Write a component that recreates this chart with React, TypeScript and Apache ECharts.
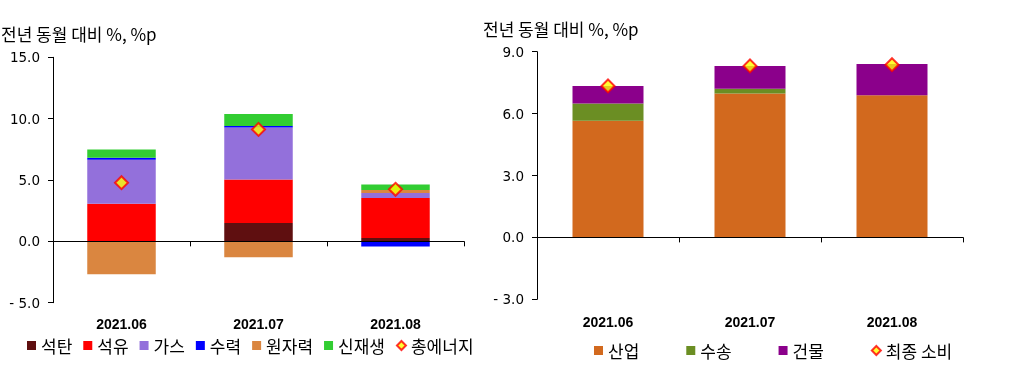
import React, { useEffect, useRef } from "react";
import * as echarts from "echarts";

const categories = ["2021.06", "2021.07", "2021.08"];

// 좌측: 에너지원별 기여도
const coal = [0.0, 1.49, 0.27];
const oil = [3.07, 3.56, 3.26];
const gas = [3.59, 4.22, 0.41];
const hydro = [0.15, 0.13, -0.41];
const nuclear = [-2.69, -1.3, 0.24];
const renew = [0.68, 0.98, 0.46];
const totalEnergy = [4.78, 9.12, 4.24];

// 우측: 부문별 기여도
const industry = [5.65, 6.97, 6.89];
const transport = [0.84, 0.23, -0.02];
const building = [0.85, 1.11, 1.51];
const finalConsumption = [7.34, 8.31, 8.37];

const leftTicks = { min: -5, max: 15, interval: 5 };
const rightTicks = { min: -3, max: 9, interval: 3 };

const KR = "'Noto Sans CJK KR', 'Noto Sans', sans-serif";
const NUM = "'DejaVu Sans', sans-serif";

const fmt = (v: number) => (v < 0 ? "- " + Math.abs(v).toFixed(1) : v.toFixed(1));

export default function App() {
  const ref = useRef<HTMLDivElement>(null);
  useEffect(() => {
    if (!ref.current) return;
    const chart = echarts.init(ref.current, null, { renderer: "svg" });

    const yAxisCommon = (t: { min: number; max: number; interval: number }, gi: number) => ({
      type: "value",
      gridIndex: gi,
      min: t.min,
      max: t.max,
      interval: t.interval,
      splitLine: { show: false },
      axisLine: { show: true, lineStyle: { color: "#000", width: 1 } },
      axisTick: { show: true, length: 5, lineStyle: { color: "#000" } },
      axisLabel: { color: "#000", fontSize: 13.5, fontFamily: NUM, margin: 13, formatter: fmt },
    });

    const xZero = (gi: number) => ({
      type: "category",
      gridIndex: gi,
      data: categories,
      z: 5,
      axisLine: { show: true, onZero: true, lineStyle: { color: "#000", width: 1 } },
      axisTick: { show: true, length: 5, alignWithLabel: false, lineStyle: { color: "#000" } },
      axisLabel: { show: false },
    });
    const xLabels = (gi: number, margin: number) => ({
      type: "category",
      gridIndex: gi,
      data: categories,
      position: "bottom",
      axisLine: { show: false, onZero: false },
      axisTick: { show: false },
      axisLabel: { color: "#000", fontSize: 14, fontWeight: "bold", fontFamily: "'Liberation Sans', sans-serif", margin },
    });

    const bar = (name: string, data: number[], color: string, xi: number, yi: number, stack: string) => ({
      name,
      type: "bar",
      stack,
      xAxisIndex: xi,
      yAxisIndex: yi,
      barWidth: "50%",
      data,
      itemStyle: { color },
    });
    const diamond = (name: string, data: number[], xi: number, yi: number) => ({
      name,
      type: "scatter",
      xAxisIndex: xi,
      yAxisIndex: yi,
      symbol: "diamond",
      symbolSize: 13,
      z: 10,
      data,
      itemStyle: { color: "#ffff00", borderColor: "#ff0000", borderWidth: 2 },
    });

    chart.setOption({
      animation: false,
      title: [
        { text: "전년 동월 대비 %, %p", left: 1, top: 25, padding: 0, textStyle: { fontSize: 17, fontWeight: "normal", color: "#000", fontFamily: KR } },
        { text: "전년 동월 대비 %, %p", left: 483, top: 20, padding: 0, textStyle: { fontSize: 17, fontWeight: "normal", color: "#000", fontFamily: KR } },
      ],
      grid: [
        { left: 53, right: 558, top: 57.3, bottom: 72.3 },
        { left: 537, right: 59, top: 51.7, bottom: 75.7 },
      ],
      xAxis: [xZero(0), xLabels(0, 14), xZero(1), xLabels(1, 16)],
      yAxis: [yAxisCommon(leftTicks, 0), yAxisCommon(rightTicks, 1)],
      legend: [
        {
          left: 27,
          top: 337,
          padding: 0,
          itemWidth: 9,
          itemHeight: 9,
          itemGap: 11,
          textStyle: { fontSize: 17, color: "#000", fontFamily: KR },
          data: [
            { name: "석탄", icon: "rect" },
            { name: "석유", icon: "rect" },
            { name: "가스", icon: "rect" },
            { name: "수력", icon: "rect" },
            { name: "원자력", icon: "rect" },
            { name: "신재생", icon: "rect" },
            { name: "총에너지", icon: "diamond" },
          ],
        },
        {
          left: 594,
          top: 342,
          padding: 0,
          itemWidth: 9,
          itemHeight: 9,
          itemGap: 47,
          textStyle: { fontSize: 17, color: "#000", fontFamily: KR },
          data: [
            { name: "산업", icon: "rect" },
            { name: "수송", icon: "rect" },
            { name: "건물", icon: "rect" },
            { name: "최종 소비", icon: "diamond" },
          ],
        },
      ],
      series: [
        bar("석탄", coal, "#5f0f10", 0, 0, "L"),
        bar("석유", oil, "#ff0000", 0, 0, "L"),
        bar("가스", gas, "#9370db", 0, 0, "L"),
        bar("수력", hydro, "#0000ff", 0, 0, "L"),
        bar("원자력", nuclear, "#da8640", 0, 0, "L"),
        bar("신재생", renew, "#32cd32", 0, 0, "L"),
        diamond("총에너지", totalEnergy, 0, 0),
        bar("산업", industry, "#d2691e", 2, 1, "R"),
        bar("수송", transport, "#6b8e23", 2, 1, "R"),
        bar("건물", building, "#8b008b", 2, 1, "R"),
        diamond("최종 소비", finalConsumption, 2, 1),
      ],
    });
    return () => chart.dispose();
  }, []);
  return <div ref={ref} style={{ position: "fixed", left: 0, top: 0, width: 1022, height: 375 }} />;
}
